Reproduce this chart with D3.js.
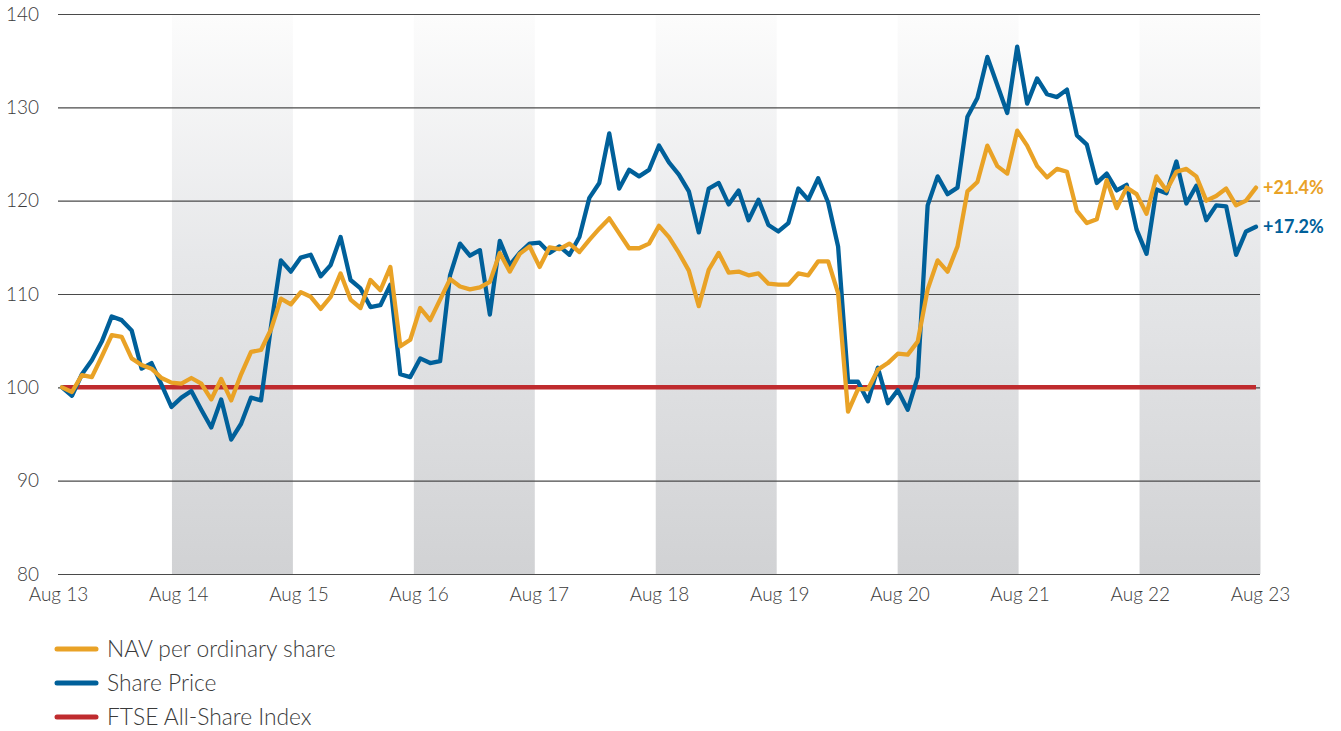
<!DOCTYPE html>
<meta charset="utf-8">
<style>
body {
  margin: 0;
  background-color: #fff;
}
.axis text {
  font-family: Lato, "Open Sans", sans-serif;
  font-size: 19px;
  font-weight: 300;
  fill: #3a3a3a;
}
.grid line {
  stroke: #4a4a4a;
  stroke-width: 1.2px;
}
</style>
<svg width="1341" height="731"></svg>
<script src="https://d3js.org/d3.v7.min.js"></script>
<script>
// monthly, Aug 13 .. Aug 23, rebased to 100
var navPerShare = [
  100.0, 99.5, 101.3, 101.1, 103.3, 105.6, 105.4, 103.1, 102.4, 102.0, 101.0, 100.5,
  100.4, 101.0, 100.4, 98.7, 100.9, 98.6, 101.4, 103.8, 104.0, 106.2, 109.5, 108.9,
  110.2, 109.7, 108.4, 109.7, 112.2, 109.4, 108.5, 111.5, 110.4, 112.9, 104.4, 105.1,
  108.5, 107.2, 109.4, 111.6, 110.8, 110.5, 110.7, 111.3, 114.4, 112.4, 114.3, 115.1,
  112.9, 115.0, 114.8, 115.4, 114.5, 115.8, 117.0, 118.1, 116.5, 114.9, 114.9, 115.4,
  117.3, 116.1, 114.4, 112.5, 108.7, 112.6, 114.4, 112.3, 112.4, 112.0, 112.2, 111.1,
  111.0, 111.0, 112.2, 112.0, 113.5, 113.5, 110.1, 97.4, 99.8, 99.8, 101.9, 102.6,
  103.6, 103.5, 104.9, 110.5, 113.6, 112.4, 115.1, 121.0, 122.0, 125.9, 123.7, 122.9,
  127.5, 125.9, 123.7, 122.5, 123.4, 123.1, 118.9, 117.6, 118.0, 122.2, 119.2, 121.4,
  120.7, 118.6, 122.6, 121.1, 123.1, 123.4, 122.6, 120.0, 120.5, 121.3, 119.5, 120.0,
  121.4
];
var sharePrice = [
  100.0, 99.1, 101.4, 102.9, 104.9, 107.6, 107.2, 106.1, 102.0, 102.6, 100.3, 97.9,
  98.9, 99.6, 97.6, 95.7, 98.7, 94.4, 96.1, 98.9, 98.6, 106.5, 113.6, 112.4,
  113.9, 114.2, 111.9, 113.1, 116.1, 111.5, 110.6, 108.6, 108.8, 111.0, 101.4, 101.1,
  103.1, 102.6, 102.8, 112.0, 115.4, 114.1, 114.7, 107.8, 115.7, 113.1, 114.4, 115.4,
  115.5, 114.4, 115.1, 114.2, 116.1, 120.3, 121.9, 127.2, 121.3, 123.3, 122.6, 123.3,
  125.9, 124.1, 122.8, 121.0, 116.6, 121.3, 121.9, 119.6, 121.1, 117.9, 120.1, 117.4,
  116.7, 117.6, 121.3, 120.1, 122.4, 119.8, 115.1, 100.6, 100.6, 98.5, 102.1, 98.3,
  99.7, 97.6, 101.1, 119.5, 122.6, 120.7, 121.4, 129.0, 131.0, 135.4, 132.4, 129.4,
  136.5, 130.4, 133.1, 131.4, 131.1, 131.9, 127.0, 126.0, 121.9, 122.9, 121.1, 121.7,
  116.9, 114.3, 121.2, 120.8, 124.2, 119.7, 121.6, 117.9, 119.5, 119.4, 114.2, 116.7,
  117.2
];
var ftseAllShare = [
  100, 100, 100, 100, 100, 100, 100, 100, 100, 100, 100, 100,
  100, 100, 100, 100, 100, 100, 100, 100, 100, 100, 100, 100,
  100, 100, 100, 100, 100, 100, 100, 100, 100, 100, 100, 100,
  100, 100, 100, 100, 100, 100, 100, 100, 100, 100, 100, 100,
  100, 100, 100, 100, 100, 100, 100, 100, 100, 100, 100, 100,
  100, 100, 100, 100, 100, 100, 100, 100, 100, 100, 100, 100,
  100, 100, 100, 100, 100, 100, 100, 100, 100, 100, 100, 100,
  100, 100, 100, 100, 100, 100, 100, 100, 100, 100, 100, 100,
  100, 100, 100, 100, 100, 100, 100, 100, 100, 100, 100, 100,
  100, 100, 100, 100, 100, 100, 100, 100, 100, 100, 100, 100,
  100
];
var yearLabels = ["Aug 13", "Aug 14", "Aug 15", "Aug 16", "Aug 17", "Aug 18",
                  "Aug 19", "Aug 20", "Aug 21", "Aug 22", "Aug 23"];
var yTicks = [80, 90, 100, 110, 120, 130, 140];
var shadedYears = [1, 3, 5, 7, 9];   // Aug 14-15, Aug 16-17, ...
var seriesNames = ["NAV per ordinary share", "Share Price", "FTSE All-Share Index"];
var endLabels = ["+21.4%", "+17.2%"];

var svg = d3.select("svg"),
    plotLeft = 58, plotRight = 1260, plotTop = 14, plotBottom = 574;

var x = d3.scaleLinear().domain([0, 120]).range([62, 1256]);
var xYear = d3.scaleLinear().domain([0, 10]).range([plotLeft, plotRight]);
// the shaded year bands sit slightly left of the labels
var xBand = d3.scaleLinear().domain([0, 10]).range([51, plotRight + 0.5]);
var y = d3.scaleLinear().domain([80, 140]).range([plotBottom, plotTop]);

var colors = ["#e9a226", "#00609a", "#bf2b2e"];

// shaded bands with a vertical gradient
var grad = svg.append("defs").append("linearGradient")
    .attr("id", "bandFill")
    .attr("x1", 0).attr("y1", 0).attr("x2", 0).attr("y2", 1);
grad.append("stop").attr("offset", "0%").attr("stop-color", "#fcfcfc");
grad.append("stop").attr("offset", "45%").attr("stop-color", "#e6e7e9");
grad.append("stop").attr("offset", "100%").attr("stop-color", "#d1d2d4");

svg.append("g").selectAll("rect")
  .data(shadedYears)
  .enter().append("rect")
    .attr("x", function(d) { return xBand(d); })
    .attr("y", y(140))
    .attr("width", function(d) { return xBand(d + 1) - xBand(d); })
    .attr("height", y(80) - y(140))
    .attr("fill", "url(#bandFill)");

// y axis + gridlines
var yAxis = svg.append("g")
    .attr("class", "axis grid")
    .attr("transform", "translate(" + plotLeft + ",0)")
    .call(d3.axisLeft(y).tickValues(yTicks).tickSize(-(plotRight - plotLeft)).tickPadding(19));
yAxis.select(".domain").remove();

// x axis
var xAxis = svg.append("g")
    .attr("class", "axis")
    .attr("transform", "translate(0," + plotBottom + ")")
    .call(d3.axisBottom(xYear)
      .tickValues(d3.range(yearLabels.length))
      .tickFormat(function(d) { return yearLabels[d]; })
      .tickSize(0).tickPadding(14));
xAxis.select(".domain").remove();

var line = d3.line()
    .x(function(d, i) { return x(i); })
    .y(function(d) { return y(d); });

svg.append("path")
    .datum(ftseAllShare)
    .attr("fill", "none")
    .attr("stroke", colors[2])
    .attr("stroke-width", 4.5)
    .attr("d", line);

svg.append("path")
    .datum(sharePrice)
    .attr("fill", "none")
    .attr("stroke", colors[1])
    .attr("stroke-width", 4.3)
    .attr("stroke-linejoin", "round")
    .attr("stroke-linecap", "round")
    .attr("d", line);

svg.append("path")
    .datum(navPerShare)
    .attr("fill", "none")
    .attr("stroke", colors[0])
    .attr("stroke-width", 4.3)
    .attr("stroke-linejoin", "round")
    .attr("stroke-linecap", "round")
    .attr("d", line);

// end-of-line labels
var last = navPerShare.length - 1;
[navPerShare, sharePrice].forEach(function(s, k) {
  svg.append("text")
      .attr("x", x(last) + 7)
      .attr("y", y(s[last]))
      .attr("dy", "0.36em")
      .attr("font-family", "Lato, sans-serif")
      .attr("font-weight", "bold")
      .attr("font-size", 18)
      .attr("fill", colors[k])
      .text(endLabels[k]);
});

// legend
var legend = svg.append("g")
    .selectAll("g")
    .data(seriesNames)
    .enter().append("g")
      .attr("transform", function(d, i) { return "translate(0," + (649 + i * 34) + ")"; });

legend.append("line")
    .attr("x1", 57).attr("x2", 96)
    .attr("stroke", function(d, i) { return colors[i]; })
    .attr("stroke-width", 5)
    .attr("stroke-linecap", "round");

legend.append("text")
    .attr("x", 107)
    .attr("dy", "0.35em")
    .attr("font-family", "Lato, sans-serif")
    .attr("font-size", 22.8)
    .attr("font-weight", 300)
    .attr("fill", "#3a3a3a")
    .text(function(d) { return d; });
</script>
